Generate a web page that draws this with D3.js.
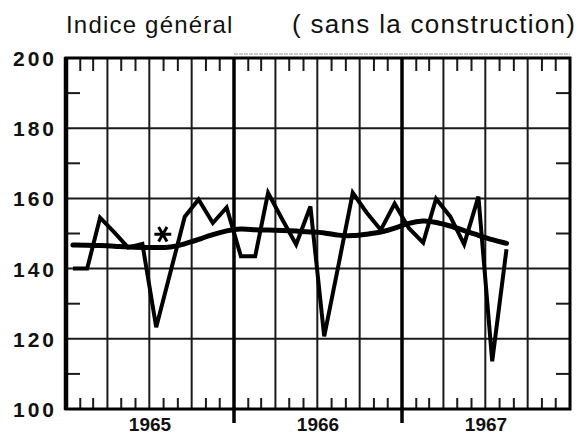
<!DOCTYPE html>
<html>
<head>
<meta charset="utf-8">
<script src="https://cdn.jsdelivr.net/npm/d3@7"></script>
<style>
  body { margin: 0; background: #fff; }
  text { font-family: "Liberation Sans", Arial, sans-serif; fill: #111; }
</style>
</head>
<body>
<div class="chart"></div>
<script>

////////// DATA //////////

var years = ["1965", "1966", "1967"];
var yTicks = [100, 120, 140, 160, 180, 200];
var yMinorTicks = [110, 130, 150, 170, 190];

// monthly index, Jan 1965 -> Aug 1967
var indice = [140, 140, 154.5, 150.3, 146, 147, 123.3, 139, 154.8, 159.7, 153, 157.4,
              143.5, 143.5, 161.6, 154, 146.9, 157.7, 120.7, 141, 161.6, 156, 151, 158.5,
              151.5, 147.4, 159.9, 154.8, 146.9, 160.5, 113.6, 145.5];

// smoothed trend
var tendance = [146.7, 146.7, 146.6, 146.4, 146.1, 146, 146, 146, 147, 148.3, 149.7, 150.8,
                151.5, 151, 151, 150.9, 150.7, 150.4, 150.3, 149.4, 149.3, 149.8, 150.3, 151.5,
                153, 153.8, 153.2, 152.2, 150.8, 149.5, 148.2, 147.2];

// asterisk annotation (month index, value)
var asterisk = [6.3, 149.8];


////////// SETUP //////////

var width = 580, height = 435;
var margin = { top: 58, right: 10, bottom: 26, left: 66 };

var startDate = new Date(+years[0], 0, 1),
    endDate = new Date(+years[years.length - 1] + 1, 0, 1);

function monthDate(i, day) { return new Date(+years[0], 0 + Math.floor(i), day || 16); }

var x = d3.scaleTime()
    .domain([startDate, endDate])
    .range([margin.left, width - margin.right]);

var y = d3.scaleLinear()
    .domain([100, 200])
    .range([height - margin.bottom, margin.top]);

var svg = d3.select(".chart")
  .append("svg")
    .attr("width", width)
    .attr("height", height);

var x0 = x.range()[0], x1 = x.range()[1],
    yTop = y(200), yBot = y(100);


////////// GRID //////////

var grid = svg.append("g").attr("class", "grid")
    .attr("stroke", "#1a1a1a");

// horizontal lines
grid.selectAll(".hline")
  .data(yTicks.slice(1, -1))
  .enter().append("line")
    .attr("x1", x0).attr("x2", x1)
    .attr("y1", y).attr("y2", y)
    .attr("stroke-width", 2);

// quarterly lines
var quarters = d3.timeMonth.every(3).range(startDate, endDate)
    .filter(function(d) { return d.getMonth() != 0; });

grid.selectAll(".vline")
  .data(quarters)
  .enter().append("line")
    .attr("x1", x).attr("x2", x)
    .attr("y1", yTop).attr("y2", yBot)
    .attr("stroke-width", 2);

// year dividers, running below the axis
var yearStarts = d3.timeYear.range(d3.timeYear.offset(startDate, 1), endDate);

grid.selectAll(".yline")
  .data(yearStarts)
  .enter().append("line")
    .attr("x1", x).attr("x2", x)
    .attr("y1", yTop).attr("y2", yBot + 14)
    .attr("stroke", "#000")
    .attr("stroke-width", 3.5);

// minor month ticks top and bottom
var months = d3.timeMonth.range(startDate, endDate)
    .filter(function(d) { return d.getMonth() % 3 != 0; });

grid.selectAll(".ttick")
  .data(months)
  .enter().append("line")
    .attr("x1", x).attr("x2", x)
    .attr("y1", yTop).attr("y2", yTop + 13)
    .attr("stroke-width", 2);

grid.selectAll(".btick")
  .data(months)
  .enter().append("line")
    .attr("x1", x).attr("x2", x)
    .attr("y1", yBot).attr("y2", yBot - 11)
    .attr("stroke-width", 2);

// minor ticks left and right
grid.selectAll(".ltick")
  .data(yMinorTicks)
  .enter().append("line")
    .attr("x1", x0).attr("x2", x0 + 14)
    .attr("y1", y).attr("y2", y)
    .attr("stroke-width", 2);

grid.selectAll(".rtick")
  .data(yMinorTicks)
  .enter().append("line")
    .attr("x1", x1 - 14).attr("x2", x1)
    .attr("y1", y).attr("y2", y)
    .attr("stroke-width", 2);

// frame
svg.append("rect")
    .attr("x", x0).attr("y", yTop)
    .attr("width", x1 - x0).attr("height", yBot - yTop)
    .attr("fill", "none")
    .attr("stroke", "#000")
    .attr("stroke-width", 3);

svg.append("line")
    .attr("x1", x0).attr("x2", x0)
    .attr("y1", yTop - 1).attr("y2", yBot + 1)
    .attr("stroke", "#000")
    .attr("stroke-width", 4.5);

// faint print line above the frame
svg.append("line")
    .attr("x1", x(yearStarts[0])).attr("x2", x1)
    .attr("y1", yTop - 4).attr("y2", yTop - 4)
    .attr("stroke", "#999")
    .attr("stroke-width", 1)
    .attr("stroke-dasharray", "4,1");


////////// LINES //////////

var line = d3.line()
    .x(function(d, i) { return x(monthDate(i)); })
    .y(function(d) { return y(d); });

svg.append("path")
    .datum(tendance)
    .attr("d", line.curve(d3.curveBasis))
    .attr("fill", "none")
    .attr("stroke", "#000")
    .attr("stroke-width", 5)
    .attr("stroke-linecap", "round");

svg.append("path")
    .datum(indice)
    .attr("d", line.curve(d3.curveLinear))
    .attr("fill", "none")
    .attr("stroke", "#000")
    .attr("stroke-width", 4)
    .attr("stroke-linejoin", "miter")
    .attr("stroke-miterlimit", 3);

// asterisk
var ax = x(monthDate(0)) + (x(monthDate(1)) - x(monthDate(0))) * asterisk[0];
svg.append("path")
    .attr("d", d3.symbol().type(d3.symbolAsterisk).size(200)())
    .attr("transform", "translate(" + ax + "," + y(asterisk[1]) + ") rotate(90)")
    .attr("fill", "none")
    .attr("stroke", "#000")
    .attr("stroke-width", 3);


////////// LABELS //////////

svg.selectAll(".ylabel")
  .data(yTicks)
  .enter().append("text")
    .attr("x", x0 - 9)
    .attr("y", function(d) { return y(d) + 8; })
    .attr("text-anchor", "end")
    .style("font-size", "21px")
    .style("font-weight", "bold")
    .style("letter-spacing", "3px")
    .text(function(d) { return d; });

svg.selectAll(".xlabel")
  .data(years)
  .enter().append("text")
    .attr("x", function(d) {
      var s = new Date(+d, 0, 1);
      return (x(s) + x(d3.timeYear.offset(s, 1))) / 2;
    })
    .attr("y", 431)
    .attr("text-anchor", "middle")
    .style("font-size", "19px")
    .style("font-weight", "bold")
    .text(function(d) { return d; });

svg.append("text")
    .attr("x", 66)
    .attr("y", 33)
    .style("font-size", "24px")
    .style("letter-spacing", "1.2px")
    .text("Indice général");

svg.append("text")
    .attr("x", 292)
    .attr("y", 33)
    .style("font-size", "26px")
    .style("letter-spacing", "1.3px")
    .text("( sans la construction)");

</script>
</body>
</html>
